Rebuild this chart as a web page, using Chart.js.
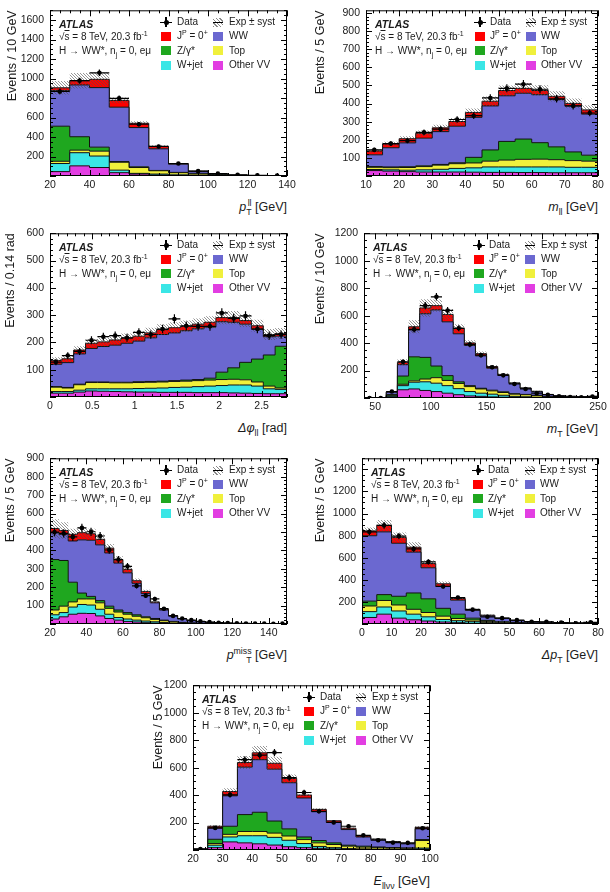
<!DOCTYPE html>
<html>
<head>
<meta charset="utf-8">
<script src="https://cdn.jsdelivr.net/npm/chart.js@4.4.0/dist/chart.umd.min.js"></script>
<style>
  body { margin: 0; width: 610px; height: 892px; position: relative; overflow: hidden; background: #fff;
         font-family: "Liberation Sans", Arial, sans-serif; color: #1a1a1a; }
  canvas { position: absolute; }
  .t { position: absolute; white-space: nowrap; font-size: 10px; line-height: 12px; }
  .atlas { font-weight: bold; font-style: italic; font-size: 10.5px; }
  .xt { position: absolute; white-space: nowrap; font-size: 12.5px; line-height: 16px; text-align: right; }
  sup, sub { font-size: 70%; line-height: 0; }
  .ss { display: inline-block; vertical-align: -0.45em; font-size: 70%; line-height: 1; }
  .ss span { display: block; }
  .box { position: absolute; width: 10px; height: 9px; }
  .mk { position: absolute; width: 12px; height: 10px; }
  .mk div { position: absolute; background: #000; }
</style>
</head>
<body>
<script>
// ===== Daten =====
// Reihenfolge der Stapel von unten: Other VV, W+jet, Top, Z/γ*, WW, Signal

// p_T^ll
const ptllEdges = [20, 30, 40, 50, 60, 70, 80, 90, 100, 110, 120, 130, 140];
const ptllOtherVV = [45, 104, 87, 34, 20, 10, 5, 2, 1, 0.5, 0.3, 0.2];
const ptllWjet = [83, 135, 118, 26, 7, 10, 7, 4, 2, 0.5, 0.3, 0.2];
const ptllTop = [23, 26, 50, 81, 60, 34, 22, 14, 7, 3, 1.5, 0.6];
const ptllZ = [360, 138, 41, 7, 7, 3, 3, 3, 2, 1, 0.5, 0.2];
const ptllWW = [365, 531, 611, 558, 403, 222, 84, 21, 5, 2, 1.5, 0.8];
const ptllSig = [29, 44, 85, 70, 44, 24, 7, 6, 3, 2, 1, 1];
const ptllData = [867, 978, 1059, 797, 531, 303, 128, 50, 24, 13, 7, 4];
const ptllSyst = [70, 80, 70, 30, 20, 12, 6, 3, 2, 1, 1, 0.5];

// m_ll
const mllEdges = [10, 15, 20, 25, 30, 35, 40, 45, 50, 55, 60, 65, 70, 75, 80];
const mllOtherVV = [30, 27, 24, 22, 22, 22, 21, 20, 20, 19, 19, 18, 18, 18];
const mllWjet = [6, 7, 8, 12, 15, 20, 24, 30, 30, 31, 31, 32, 30, 30];
const mllTop = [12, 12, 15, 18, 23, 26, 27, 32, 38, 42, 43, 40, 37, 34];
const mllZ = [4, 4, 4, 4, 4, 5, 31, 62, 103, 112, 91, 71, 48, 33];
const mllWW = [65, 106, 132, 153, 181, 202, 221, 243, 252, 253, 265, 261, 254, 227];
const mllSig = [21, 21, 23, 27, 21, 26, 27, 26, 29, 27, 23, 18, 14, 23];
const mllData = [144, 179, 195, 241, 259, 312, 333, 431, 484, 507, 479, 426, 387, 348];
const mllSyst = [10, 12, 13, 15, 17, 19, 22, 26, 28, 29, 29, 28, 27, 25];

// Δφ_ll
const dphiEdges = [0, 0.14, 0.28, 0.42, 0.56, 0.70, 0.84, 0.98, 1.12, 1.26, 1.40, 1.54, 1.68, 1.82, 1.96, 2.10, 2.24, 2.38, 2.52, 2.66, 2.80];
const dphiOtherVV = [14, 14, 18, 22, 21, 20, 19, 18, 18, 17, 17, 17, 16, 16, 16, 15, 14, 13, 12, 12];
const dphiWjet = [6, 6, 7, 8, 9, 10, 11, 13, 14, 16, 18, 19, 22, 24, 26, 29, 30, 27, 18, 16];
const dphiTop = [16, 13, 20, 23, 23, 22, 22, 22, 22, 22, 22, 22, 22, 22, 22, 21, 19, 15, 10, 5];
const dphiZ = [2, 2, 2, 2, 2, 2, 2, 3, 3, 3, 3, 4, 4, 7, 27, 42, 64, 84, 114, 153];
const dphiWW = [82, 91, 111, 123, 130, 136, 143, 149, 160, 171, 175, 181, 186, 187, 185, 167, 140, 110, 67, 37];
const dphiSig = [14, 14, 14, 19, 17, 19, 19, 18, 18, 18, 19, 16, 17, 18, 15, 17, 13, 12, 8, 10];
const dphiData = [128, 152, 167, 208, 221, 225, 217, 237, 229, 249, 286, 261, 259, 259, 308, 288, 297, 249, 225, 229];
const dphiSyst = [12, 12, 14, 16, 16, 17, 17, 18, 19, 20, 20, 21, 21, 22, 24, 24, 23, 22, 20, 20];

// m_T
const mtEdges = [40, 50, 60, 70, 80, 90, 100, 110, 120, 130, 140, 150, 160, 170, 180, 190, 200, 210, 220, 230, 240, 250];
const mtOtherVV = [0, 0, 8, 60, 66, 55, 47, 35, 24, 15, 12, 8, 6, 4, 3, 2, 1, 1, 0.5, 0.5, 0.5];
const mtWjet = [0, 0, 6, 30, 49, 63, 61, 55, 44, 32, 23, 20, 14, 8, 6, 4, 2, 1, 1, 0.5, 1];
const mtTop = [0, 0, 2, 10, 10, 20, 40, 38, 38, 36, 31, 24, 20, 16, 15, 12, 7, 5, 4, 3, 4];
const mtZ = [0, 0, 10, 60, 175, 158, 85, 35, 12, 7, 5, 5, 5, 3, 2, 2, 1, 1, 0.5, 0.5, 0.5];
const mtWW = [0, 0, 16, 83, 196, 318, 409, 392, 350, 293, 236, 160, 120, 75, 45, 27, 14, 8, 6, 5, 6];
const mtSig = [0, 0, 3, 17, 23, 42, 31, 54, 40, 18, 16, 12, 7, 4, 2, 2, 1, 1, 0.5, 0.5, 0.5];
const mtData = [0, 0, 47, 264, 500, 673, 737, 638, 508, 390, 312, 224, 165, 102, 66, 35, 24, 12, 7, 6, 10];
const mtSyst = [0, 0, 5, 23, 48, 64, 45, 40, 30, 20, 15, 12, 8, 6, 4, 3, 2, 1, 1, 1, 1];

// p_T^miss
const metEdges = [20, 25, 30, 35, 40, 45, 50, 55, 60, 65, 70, 75, 80, 85, 90, 95, 100, 105, 110, 115, 120, 125, 130, 135, 140, 145, 150];
const metOtherVV = [27, 39, 53, 58, 57, 44, 30, 21, 14, 11, 7, 5, 3, 2, 1, 1, 0.5, 0.3, 0.2, 0.1, 0.1, 0, 0, 0, 0, 0];
const metWjet = [23, 23, 39, 48, 46, 36, 23, 14, 13, 10, 9, 7, 5, 3, 2, 1, 0.5, 0.3, 0.2, 0.1, 0.1, 0, 0, 0, 0, 0];
const metTop = [26, 35, 28, 30, 33, 35, 32, 30, 26, 21, 18, 13, 10, 7, 5, 3, 2, 1.5, 1, 0.8, 0.6, 0.5, 0.4, 0.3, 0.2, 0.2];
const metZ = [274, 248, 107, 32, 14, 12, 12, 11, 9, 8, 5, 5, 3, 2, 1, 1, 0.5, 0.3, 0.2, 0.1, 0.1, 0, 0, 0, 0, 0];
const metWW = [146, 142, 224, 289, 305, 303, 289, 255, 216, 171, 126, 85, 55, 30, 18, 12, 8, 6, 4, 3, 2, 1.5, 1, 0.7, 0.5, 0.4];
const metSig = [23, 21, 36, 39, 35, 30, 26, 19, 19, 14, 12, 5, 4, 2, 1, 1, 1, 0.5, 0.4, 0.3, 0.2, 0.1, 0.1, 0.1, 0.1, 0.1];
const metData = [499, 492, 473, 522, 501, 478, 402, 350, 313, 207, 154, 136, 83, 44, 30, 21, 14, 10, 7, 5, 4, 3, 2, 2, 1, 2];
const metSyst = [50, 45, 30, 30, 28, 26, 22, 18, 15, 12, 9, 6, 4, 3, 2, 1, 1, 1, 0.5, 0.5, 0.5, 0.5, 0.3, 0.3, 0.3, 0.3];

// Δp_T
const dptEdges = [0, 5, 10, 15, 20, 25, 30, 35, 40, 45, 50, 55, 60, 65, 70, 75, 80];
const dptOtherVV = [59, 89, 53, 38, 27, 18, 12, 6, 4, 2, 1, 1, 0.5, 0.5, 0.3, 0.3];
const dptWjet = [53, 65, 65, 51, 38, 23, 18, 15, 8, 5, 3, 2, 1.5, 0.5, 0.7, 0.7];
const dptTop = [51, 59, 54, 44, 39, 30, 20, 15, 12, 8, 6, 4, 3, 2, 2, 2];
const dptZ = [44, 53, 79, 148, 124, 71, 39, 17, 9, 5, 3, 2, 1, 1, 1, 1];
const dptWW = [592, 568, 480, 370, 281, 198, 127, 71, 41, 30, 17, 9, 9, 8, 5, 5];
const dptSig = [44, 59, 53, 44, 38, 24, 15, 9, 6, 3, 2, 1, 1, 1, 1, 1];
const dptData = [834, 893, 796, 680, 562, 340, 240, 130, 65, 53, 35, 21, 20, 12, 6, 15];
const dptSyst = [30, 48, 44, 45, 30, 20, 12, 8, 5, 3, 2, 1, 1, 1, 1, 1];

// E_llνν
const ellvvEdges = [20, 25, 30, 35, 40, 45, 50, 55, 60, 65, 70, 75, 80, 85, 90, 95, 100];
const ellvvOtherVV = [2, 17, 59, 52, 45, 36, 24, 17, 12, 8, 5, 4, 3, 2, 2, 7];
const ellvvWjet = [1, 18, 36, 52, 59, 56, 47, 30, 14, 9, 5, 4, 3, 3, 2, 7];
const ellvvTop = [1, 12, 19, 31, 31, 31, 31, 29, 26, 23, 18, 13, 11, 9, 8, 55];
const ellvvZ = [1, 31, 59, 123, 140, 88, 52, 19, 17, 12, 7, 7, 5, 4, 3, 7];
const ellvvWW = [1, 81, 222, 346, 383, 378, 336, 284, 210, 149, 114, 67, 54, 41, 30, 78];
const ellvvSig = [1, 14, 31, 33, 50, 43, 31, 21, 17, 12, 10, 7, 4, 3, 2, 12];
const ellvvData = [7, 161, 402, 658, 691, 710, 528, 419, 282, 201, 173, 107, 71, 54, 52, 159];
const ellvvSyst = [1, 10, 24, 47, 49, 47, 30, 10, 8, 6, 5, 4, 3, 2, 2, 8];

// ===== Stil =====
const FONT = '"Liberation Sans", Arial, sans-serif';
const COLORS = ['#e23ee2', '#3ae6e6', '#f0f03c', '#1fa71f', '#6b68d0', '#ff0000'];

const panels = [
  { edges: ptllEdges, layers: [ptllOtherVV, ptllWjet, ptllTop, ptllZ, ptllWW, ptllSig], data: ptllData, syst: ptllSyst,
    yTitle: 'Events / 10 GeV', xTitle: '<i>p</i><span class="ss"><span>ll</span><span>T</span></span> [GeV]',
    yMax: 1700, xStep: 20, xSub: 4, yStep: 200, ySub: 4, frame: [50, 6, 287, 176], yTitleX: 12 },
  // 915 statt 910: sonst verteilt Chart.js die Ticks gleichmässig auf 9 Intervalle
  { edges: mllEdges, layers: [mllOtherVV, mllWjet, mllTop, mllZ, mllWW, mllSig], data: mllData, syst: mllSyst,
    yTitle: 'Events / 5 GeV', xTitle: '<i>m</i><sub>ll</sub> [GeV]',
    yMax: 915, xStep: 10, xSub: 5, yStep: 100, ySub: 5, frame: [366, 6, 598, 176], yTitleX: 320 },
  { edges: dphiEdges, layers: [dphiOtherVV, dphiWjet, dphiTop, dphiZ, dphiWW, dphiSig], data: dphiData, syst: dphiSyst,
    yTitle: 'Events / 0.14 rad', xTitle: '<i>Δφ</i><sub>ll</sub> [rad]',
    yMax: 600, xStep: 0.5, xSub: 5, yStep: 100, ySub: 5, frame: [50, 229, 287, 397], yTitleX: 10 },
  { edges: mtEdges, layers: [mtOtherVV, mtWjet, mtTop, mtZ, mtWW, mtSig], data: mtData, syst: mtSyst,
    yTitle: 'Events / 10 GeV', xTitle: '<i>m</i><sub>T</sub> [GeV]',
    yMax: 1200, xStep: 50, xSub: 5, yStep: 200, ySub: 4, frame: [364, 229, 598, 398], yTitleX: 320 },
  { edges: metEdges, layers: [metOtherVV, metWjet, metTop, metZ, metWW, metSig], data: metData, syst: metSyst,
    yTitle: 'Events / 5 GeV', xTitle: '<i>p</i><span class="ss"><span>miss</span><span>T</span></span> [GeV]',
    yMax: 900, xStep: 20, xSub: 4, yStep: 100, ySub: 5, frame: [50, 454, 287, 624], yTitleX: 10 },
  { edges: dptEdges, layers: [dptOtherVV, dptWjet, dptTop, dptZ, dptWW, dptSig], data: dptData, syst: dptSyst,
    yTitle: 'Events / 5 GeV', xTitle: '<i>Δp</i><sub>T</sub> [GeV]',
    yMax: 1500, xStep: 10, xSub: 5, yStep: 200, ySub: 4, frame: [362, 454, 598, 624], yTitleX: 320 },
  { edges: ellvvEdges, layers: [ellvvOtherVV, ellvvWjet, ellvvTop, ellvvZ, ellvvWW, ellvvSig], data: ellvvData, syst: ellvvSyst,
    yTitle: 'Events / 5 GeV', xTitle: '<i>E</i><sub>llνν</sub> [GeV]',
    yMax: 1200, xStep: 10, xSub: 5, yStep: 200, ySub: 4, frame: [193, 681, 430, 850], yTitleX: 158 }
];

// ===== Helpers =====
// Stufen-Punkte: untere Bin-Kanten + letzter Rand
function histPoints(edges, vals) {
  const pts = vals.map((v, i) => ({ x: edges[i], y: v }));
  pts.push({ x: edges[edges.length - 1], y: vals[vals.length - 1] });
  return pts;
}

function makeHatch() {
  const c = document.createElement('canvas');
  c.width = 3; c.height = 3;
  const g = c.getContext('2d');
  g.strokeStyle = 'rgba(80,80,80,0.6)';
  g.lineWidth = 1;
  g.beginPath();
  g.moveTo(-1, -1); g.lineTo(4, 4);
  g.moveTo(-1, 2); g.lineTo(1, 4);
  g.moveTo(2, -1); g.lineTo(4, 1);
  g.stroke();
  return g.createPattern(c, 'repeat');
}
const hatch = makeHatch();

// Rahmen mit Ticks nach innen (ROOT-Stil)
const framePlugin = {
  id: 'frame',
  afterDatasetsDraw(chart, args, opts) {
    const { ctx, chartArea: a, scales: { x, y } } = chart;
    ctx.save();
    ctx.strokeStyle = '#000';
    ctx.lineWidth = 1;
    ctx.strokeRect(a.left + 0.5, a.top + 0.5, a.right - a.left - 1, a.bottom - a.top - 1);
    ctx.beginPath();
    const ticks = (scale, step, nsub, horiz) => {
      const minor = step / nsub;
      const first = Math.ceil(scale.min / minor - 1e-6);
      const last = Math.floor(scale.max / minor + 1e-6);
      for (let k = first; k <= last; k++) {
        const v = k * minor;
        const major = Math.abs(v / step - Math.round(v / step)) < 1e-6;
        const len = major ? 6 : 3;
        const p = Math.round(scale.getPixelForValue(v)) + 0.5;
        if (horiz) {
          ctx.moveTo(p, a.bottom); ctx.lineTo(p, a.bottom - len);
          ctx.moveTo(p, a.top); ctx.lineTo(p, a.top + len);
        } else {
          ctx.moveTo(a.left, p); ctx.lineTo(a.left + len, p);
          ctx.moveTo(a.right, p); ctx.lineTo(a.right - len, p);
        }
      }
    };
    ticks(x, opts.xStep, opts.xSub, true);
    ticks(y, opts.yStep, opts.ySub, false);
    ctx.stroke();
    ctx.restore();
  }
};

// Fehlerbalken der Datenpunkte (Binbreite horizontal, sqrt(N) vertikal)
const errorBarPlugin = {
  id: 'errbars',
  afterDatasetsDraw(chart) {
    const { ctx, chartArea: a, scales: { x, y } } = chart;
    ctx.save();
    ctx.beginPath();
    ctx.rect(a.left, a.top, a.right - a.left, a.bottom - a.top);
    ctx.clip();
    ctx.strokeStyle = '#000';
    ctx.lineWidth = 1.2;
    ctx.beginPath();
    chart.data.datasets.forEach(ds => {
      if (!ds.errEdges) return;
      ds.data.forEach((pt, i) => {
        const py = y.getPixelForValue(pt.y);
        const px = x.getPixelForValue(pt.x);
        ctx.moveTo(x.getPixelForValue(ds.errEdges[i]), py);
        ctx.lineTo(x.getPixelForValue(ds.errEdges[i + 1]), py);
        const e = Math.sqrt(pt.y);
        ctx.moveTo(px, y.getPixelForValue(pt.y - e));
        ctx.lineTo(px, y.getPixelForValue(pt.y + e));
      });
    });
    ctx.stroke();
    ctx.restore();
  }
};

function addText(html, left, top, cls) {
  const d = document.createElement('div');
  d.className = cls || 't';
  d.style.left = left + 'px';
  d.style.top = top + 'px';
  d.innerHTML = html;
  document.body.appendChild(d);
  return d;
}

function addBox(left, top, bg) {
  const d = document.createElement('div');
  d.className = 'box';
  d.style.left = left + 'px';
  d.style.top = top + 'px';
  d.style.background = bg;
  document.body.appendChild(d);
  return d;
}

function drawLegend(p) {
  const [L, T, R, B] = p.frame;
  const W = R - L;
  const rows = [16, 30, 44.5, 59];

  addText('ATLAS', L + 9, T + 12, 't atlas');
  addText('√<span style="text-decoration:overline">s</span> = 8 TeV, 20.3 fb<sup>-1</sup>', L + 9, T + 25);
  addText('H → WW*, n<sub>j</sub> = 0, eμ', L + 9, T + 39);

  const c1 = L + Math.round(0.49 * W), c2 = L + Math.round(0.71 * W);
  const t1 = L + Math.round(0.535 * W), t2 = L + Math.round(0.755 * W);

  // Data-Marker
  const mk = document.createElement('div');
  mk.className = 'mk';
  mk.style.left = (c1 - 6) + 'px';
  mk.style.top = (T + rows[0] - 5) + 'px';
  mk.innerHTML = '<div style="left:0;top:4.5px;width:12px;height:1.2px"></div>' +
                 '<div style="left:5.4px;top:0;width:1.2px;height:10px"></div>' +
                 '<div style="left:3.5px;top:2.6px;width:5px;height:5px;border-radius:50%"></div>';
  document.body.appendChild(mk);
  addText('Data', t1, T + rows[0] - 6);

  const hb = addBox(c2 - 5, T + rows[0] - 4.5,
    'repeating-linear-gradient(45deg, #8a8a8a 0 1px, #ffffff 1px 2.6px)');
  hb.innerHTML = '<div style="position:absolute;left:0;top:4px;width:10px;height:1px;background:#000"></div>';
  addText('Exp ± syst', t2, T + rows[0] - 6);

  const col1 = [[COLORS[5], 'J<sup>P</sup> = 0<sup>+</sup>'], [COLORS[3], 'Z/γ*'], [COLORS[1], 'W+jet']];
  const col2 = [[COLORS[4], 'WW'], [COLORS[2], 'Top'], [COLORS[0], 'Other VV']];
  col1.forEach(([c, txt], i) => {
    addBox(c1 - 5, T + rows[i + 1] - 4.5, c);
    addText(txt, t1, T + rows[i + 1] - 6);
  });
  col2.forEach(([c, txt], i) => {
    addBox(c2 - 5, T + rows[i + 1] - 4.5, c);
    addText(txt, t2, T + rows[i + 1] - 6);
  });

  const xt = addText(p.xTitle, 0, B + 23, 'xt');
  xt.style.left = 'auto';
  xt.style.right = (610 - R) + 'px';
}

// ===== Charts =====
function createPanel(p) {
  const [L, T, R, B] = p.frame;
  const left = Math.round(p.yTitleX - 7.5);
  const top = T - 8;
  const width = R + 12 - left;
  const height = B - T + 8 + 22;
  const yw = L - left;

  const canvas = document.createElement('canvas');
  canvas.width = width;
  canvas.height = height;
  canvas.style.left = left + 'px';
  canvas.style.top = top + 'px';
  canvas.style.width = width + 'px';
  canvas.style.height = height + 'px';
  document.body.appendChild(canvas);

  const total = p.layers[0].map((_, i) => p.layers.reduce((s, l) => s + l[i], 0));
  const lo = total.map((t, i) => Math.max(t - p.syst[i], 0));
  const hi = total.map((t, i) => t + p.syst[i]);

  const datasets = p.layers.map((vals, k) => ({
    data: histPoints(p.edges, vals),
    stepped: 'before',
    borderColor: '#111',
    borderWidth: 1,
    backgroundColor: COLORS[k],
    fill: k === 0 ? 'origin' : '-1',
    pointRadius: 0,
    order: 2
  }));
  datasets.push({
    data: histPoints(p.edges, lo), stepped: 'before', borderColor: 'rgba(0,0,0,0)', borderWidth: 1,
    pointRadius: 0, fill: false, stack: 'bandLo', order: 1
  });
  datasets.push({
    data: histPoints(p.edges, hi), stepped: 'before', borderColor: 'rgba(0,0,0,0)', borderWidth: 1,
    pointRadius: 0, fill: '-1', backgroundColor: hatch, stack: 'bandHi', order: 1
  });
  datasets.push({
    type: 'scatter',
    data: p.data.map((v, i) => ({ x: (p.edges[i] + p.edges[i + 1]) / 2, y: v })),
    errEdges: p.edges,
    pointRadius: 2.3,
    pointBackgroundColor: '#000',
    pointBorderWidth: 0,
    stack: 'data',
    order: 0
  });

  new Chart(canvas, {
    type: 'line',
    data: { datasets },
    options: {
      responsive: false,
      animation: false,
      devicePixelRatio: 1,
      layout: { padding: { left: 0, top: 8, right: 12, bottom: 0 } },
      plugins: {
        legend: { display: false },
        tooltip: { enabled: false },
        frame: { xStep: p.xStep, xSub: p.xSub, yStep: p.yStep, ySub: p.ySub }
      },
      scales: {
        x: {
          type: 'linear',
          min: p.edges[0],
          max: p.edges[p.edges.length - 1],
          grid: { display: false, drawTicks: false },
          border: { display: false },
          ticks: { stepSize: p.xStep, autoSkip: false, maxRotation: 0, padding: 3, color: '#1a1a1a',
                   font: { family: FONT, size: 10.5 }, includeBounds: false,
                   callback: v => String(Math.round(v * 100) / 100) },
          afterFit: s => { s.height = 22; }
        },
        y: {
          type: 'linear',
          stacked: true,
          min: 0,
          max: p.yMax,
          grid: { display: false, drawTicks: false },
          border: { display: false },
          ticks: { stepSize: p.yStep, autoSkip: false, padding: 6, color: '#1a1a1a',
                   font: { family: FONT, size: 10.5 }, includeBounds: false,
                   callback: v => (v === 0 ? '' : v) },
          title: { display: true, text: p.yTitle, align: 'end', padding: 0, color: '#1a1a1a',
                   font: { family: FONT, size: 12.5 } },
          afterFit: s => { s.width = yw; }
        }
      }
    },
    plugins: [framePlugin, errorBarPlugin]
  });

  drawLegend(p);
}

panels.forEach(createPanel);
</script>
</body>
</html>
